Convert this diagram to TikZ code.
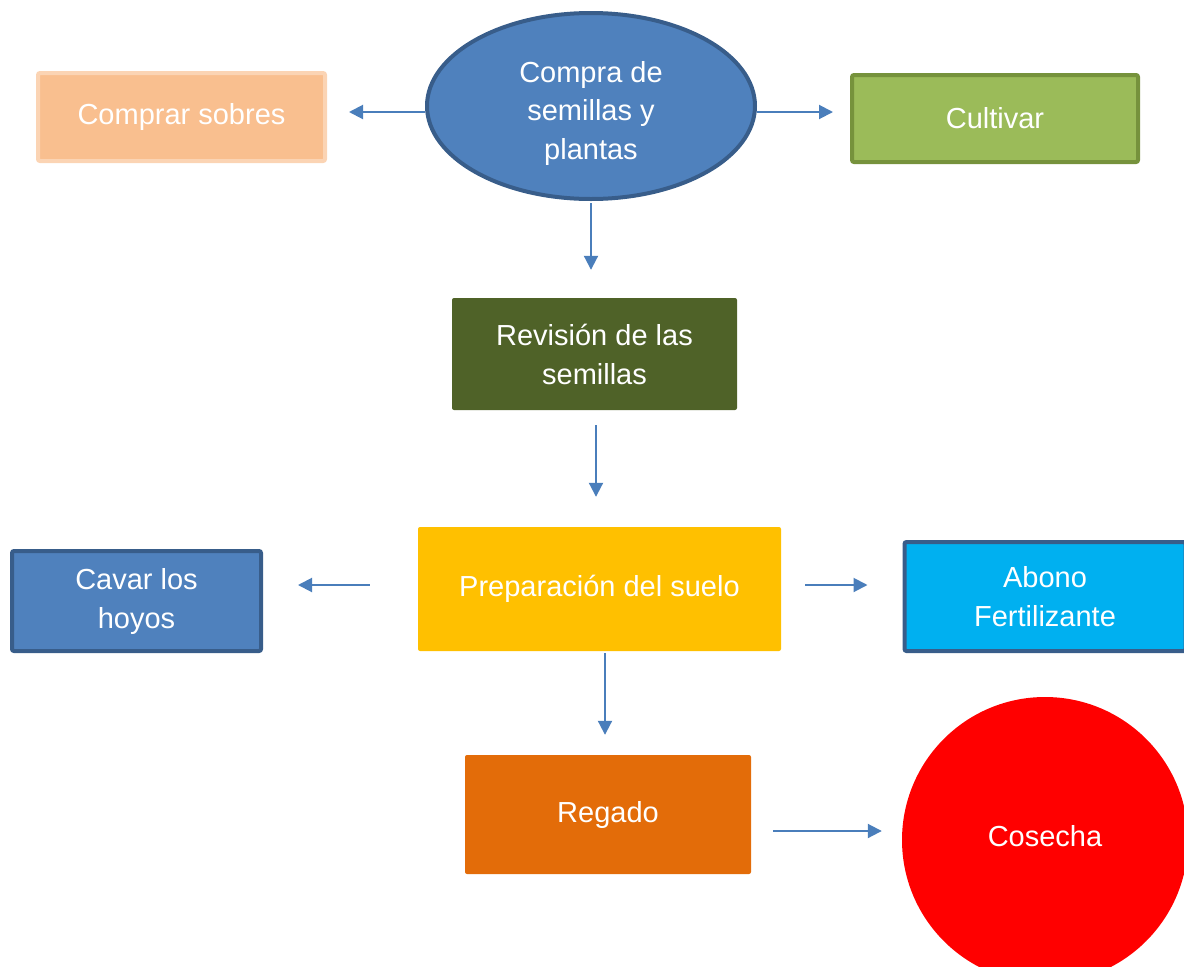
\documentclass[tikz,border=0pt]{standalone}
\usepackage{fontspec}
\setmainfont{Liberation Sans}
\usepackage{tikz}
\usetikzlibrary{positioning,arrows.meta,shapes.geometric}
\usepackage{xcolor}
\definecolor{flecha}{HTML}{4A7EBB}
\definecolor{azul}{HTML}{4F81BD}
\definecolor{azulborde}{HTML}{385D8A}
\definecolor{naranjaclaro}{HTML}{F9BF8F}
\definecolor{naranjaborde}{HTML}{FBD4B4}
\definecolor{verdeclaro}{HTML}{9BBB59}
\definecolor{verdeborde}{HTML}{76923C}
\definecolor{verdeoscuro}{HTML}{4F6228}
\definecolor{amarillo}{HTML}{FFC000}
\definecolor{celeste}{HTML}{00B0F0}
\definecolor{naranja}{HTML}{E36C09}

\begin{document}
\begin{tikzpicture}[x=1pt,y=-1pt,
  caja/.style={rectangle,rounded corners=2pt,text=white,align=center,inner sep=0pt,
    font=\fontsize{29}{39}\selectfont},
  flecha/.style={draw=flecha,line width=2pt,-{Triangle[length=14pt,width=14pt]}}]
\useasboundingbox (0,0) rectangle (1184,967);
% nodos
\node[shape=ellipse,fill=azul,draw=azulborde,line width=4pt,text=white,align=center,inner sep=0pt,
  minimum width=328pt,minimum height=186pt,font=\fontsize{29}{39}\selectfont] (compra) at (591,106) {\raisebox{0pt}[\dimexpr\height+14pt][\depth]{\begin{tabular}{@{}c@{}}Compra de\\[-0.5pt]semillas y\\[-0.5pt]plantas\end{tabular}}};
\node[caja,fill=naranjaclaro,draw=naranjaborde,line width=4pt,minimum width=287pt,minimum height=88pt] (sobres) at (181.5,117) {Comprar sobres};
\node[caja,fill=verdeclaro,draw=verdeborde,line width=4pt,minimum width=286pt,minimum height=87pt] (cultivar) at (995,118.5) {Cultivar};
\node[caja,fill=verdeoscuro,minimum width=285pt,minimum height=112pt] (revision) at (594.5,354) {Revisión de las\\semillas};
\node[caja,fill=amarillo,minimum width=363pt,minimum height=124pt] (prep) at (599.5,589) {Preparación del suelo};
\node[caja,fill=azul,draw=azulborde,line width=4pt,minimum width=249pt,minimum height=100pt] (cavar) at (136.5,601) {Cavar los\\hoyos};
\node[caja,fill=celeste,draw=azulborde,line width=4pt,minimum width=281pt,minimum height=109pt] (abono) at (1045,596.5) {Abono\\Fertilizante};
\node[caja,fill=naranja,minimum width=286pt,minimum height=119pt] (regado) at (608,814.5) {Regado};
\node[shape=circle,fill=red,text=white,inner sep=0pt,minimum size=286pt,
  font=\fontsize{29}{39}\selectfont] (cosecha) at (1045,840) {\raisebox{0pt}[\height][\dimexpr\depth+8pt]{Cosecha}};
% flechas
\draw[flecha,shorten >=22pt] ([yshift=-6pt]compra.west) -- ([yshift=-6pt]compra.west -| sobres.east);
\draw[flecha,shorten >=17pt] ([yshift=-6pt]compra.east) -- ([yshift=-6pt]compra.east -| cultivar.west);
\draw[flecha,shorten <=2pt,shorten >=28pt] (compra.south) -- (compra.south |- revision.north);
\draw[flecha,shorten <=15pt,shorten >=30pt] ([xshift=1.5pt]revision.south) -- ([xshift=1.5pt]revision.south |- prep.north);
\draw[flecha,shorten <=48pt,shorten >=35pt] ([yshift=4pt]prep.west) -- ([yshift=4pt]prep.west -| cavar.east);
\draw[flecha,shorten <=24pt,shorten >=35pt] ([yshift=4pt]prep.east) -- ([yshift=4pt]prep.east -| abono.west);
\draw[flecha,shorten <=2pt,shorten >=20pt] ([xshift=-3pt]regado.north |- prep.south) -- ([xshift=-3pt]regado.north);
\draw[flecha,shorten <=22pt,shorten >=20pt] ([yshift=-16.5pt]regado.east) -- ([yshift=-16.5pt]regado.east -| cosecha.west);
\end{tikzpicture}
\end{document}
